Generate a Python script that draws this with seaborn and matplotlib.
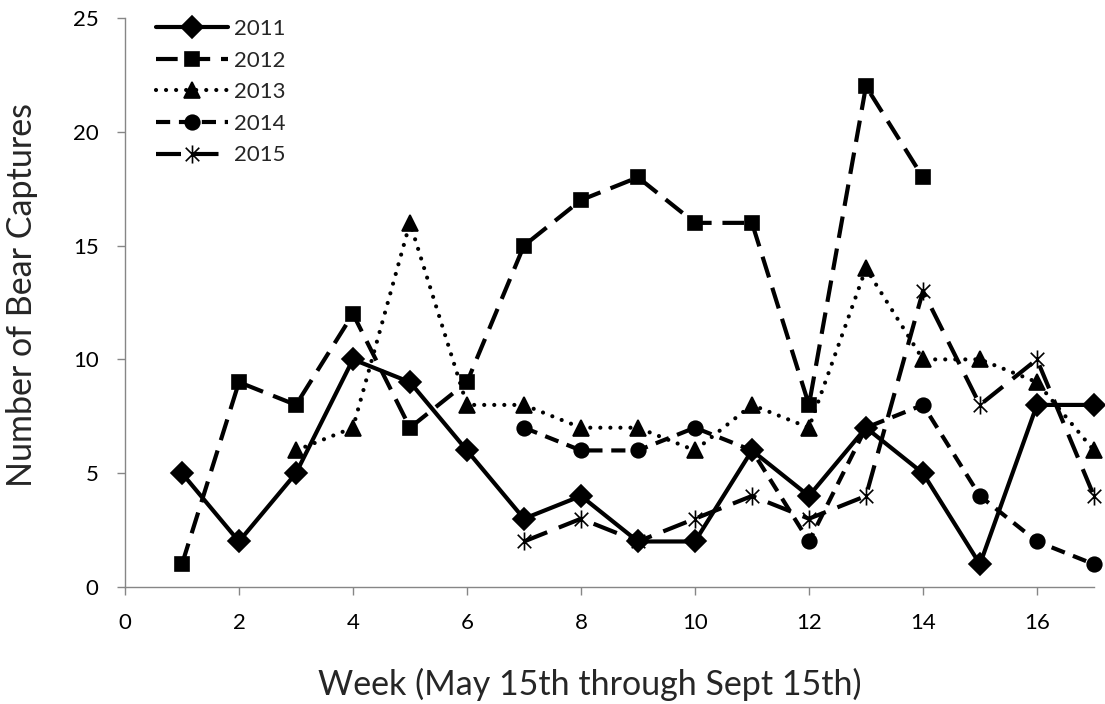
import matplotlib
matplotlib.use("Agg")
import matplotlib.pyplot as plt
from matplotlib.path import Path
import seaborn as sns
import pandas as pd

# Weekly bear captures
weeks_2011 = [1, 2, 3, 4, 5, 6, 7, 8, 9, 10, 11, 12, 13, 14, 15, 16, 17]
captures_2011 = [5, 2, 5, 10, 9, 6, 3, 4, 2, 2, 6, 4, 7, 5, 1, 8, 8]

weeks_2012 = [1, 2, 3, 4, 5, 6, 7, 8, 9, 10, 11, 12, 13, 14]
captures_2012 = [1, 9, 8, 12, 7, 9, 15, 17, 18, 16, 16, 8, 22, 18]

weeks_2013 = [3, 4, 5, 6, 7, 8, 9, 10, 11, 12, 13, 14, 15, 16, 17]
captures_2013 = [6, 7, 16, 8, 8, 7, 7, 6, 8, 7, 14, 10, 10, 9, 6]

weeks_2014 = [7, 8, 9, 10, 11, 12, 13, 14, 15, 16, 17]
captures_2014 = [7, 6, 6, 7, 6, 2, 7, 8, 4, 2, 1]

weeks_2015 = [7, 8, 9, 10, 11, 12, 13, 14, 15, 16, 17]
captures_2015 = [2, 3, 2, 3, 4, 3, 4, 13, 8, 10, 4]

years = ["2011", "2012", "2013", "2014", "2015"]
series = {
    "2011": (weeks_2011, captures_2011),
    "2012": (weeks_2012, captures_2012),
    "2013": (weeks_2013, captures_2013),
    "2014": (weeks_2014, captures_2014),
    "2015": (weeks_2015, captures_2015),
}

# Excel style "star" marker: an X with a vertical stroke through it
star = Path([(0, -1), (0, 1), (-0.75, -0.75), (0.75, 0.75), (-0.75, 0.75), (0.75, -0.75)],
            [Path.MOVETO, Path.LINETO, Path.MOVETO, Path.LINETO, Path.MOVETO, Path.LINETO])

styles = {
    "2011": dict(marker="D", markersize=11, linestyle="-"),
    "2012": dict(marker="s", markersize=10.5, linestyle=(0, (5.2, 2.6))),
    "2013": dict(marker="^", markersize=11, linestyle=(0, (0.01, 2.4)),
                 dash_capstyle="round"),
    "2014": dict(marker="o", markersize=10.5, linestyle=(0, (3.4, 2.1))),
    "2015": dict(marker=star, markersize=13, linestyle=(0, (6, 3)),
                 markerfacecolor="none"),
}

sns.set_style("white")
plt.rcParams["font.family"] = ["Lato", "DejaVu Sans"]

fig = plt.figure(figsize=(11.05, 7.04), dpi=100)
ax = fig.add_axes([0.1131, 0.1662, 0.8769, 0.8082])

for yr in years:
    wk, vals = series[yr]
    df = pd.DataFrame({"week": wk, "captures": vals})
    sns.lineplot(data=df, x="week", y="captures", ax=ax, color="black",
                 linewidth=3.0, markeredgecolor="black", markeredgewidth=1.2,
                 clip_on=False, label=yr, **styles[yr])

ax.set_xlim(0, 17)
ax.set_ylim(0, 25)
ax.set_xticks(range(0, 17, 2))
ax.set_yticks(range(0, 26, 5))

for side in ["top", "right"]:
    ax.spines[side].set_visible(False)
for side in ["left", "bottom"]:
    ax.spines[side].set_color("#868686")
    ax.spines[side].set_linewidth(1.0)
ax.tick_params(axis="both", direction="out", length=6, width=1.0,
               color="#868686", labelsize=16, labelcolor="black",
               bottom=True, left=True, pad=13)

ax.set_xlabel("Week (May 15th through Sept 15th)", fontsize=24.5)
ax.set_ylabel("Number of Bear Captures", fontsize=24.5)
ax.xaxis.set_label_coords(0.48, -0.142)
ax.yaxis.set_label_coords(-0.09, 0.513)

ax.legend(loc="upper left", bbox_to_anchor=(0.032, 0.998), frameon=False,
          fontsize=16, handlelength=3.25, handletextpad=0.27,
          labelspacing=0.52, borderpad=0, borderaxespad=0, numpoints=1)

fig.savefig("out.png", dpi=100)
plt.close(fig)
